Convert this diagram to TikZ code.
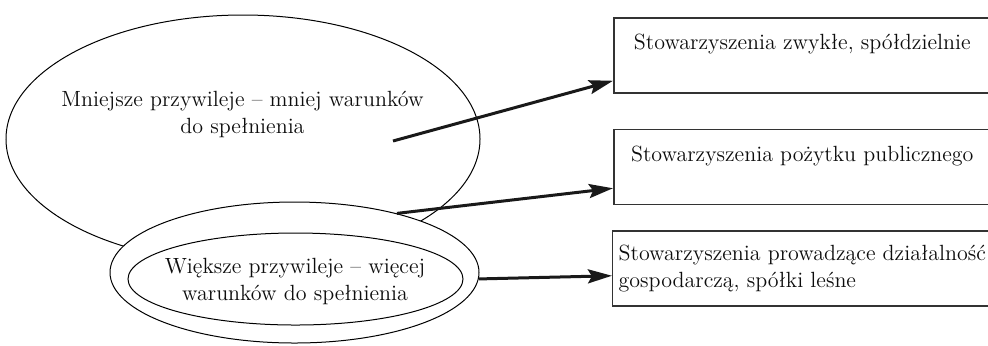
\documentclass[tikz,border=0pt]{standalone}
\usepackage{fontspec}
\usepackage{tikz}
\usetikzlibrary{calc, shapes.geometric, positioning, arrows.meta}

\begin{document}
\begin{tikzpicture}[x=0.5pt, y=-0.5pt, >={Stealth[length=12pt,width=7pt,inset=2pt]},
    owal/.style={draw, ellipse, inner sep=0pt, line width=0.5pt},
    ramka/.style={draw=black!80, line width=0.75pt, rectangle, minimum width=188.5pt, minimum height=37.5pt, inner sep=3pt},
    napis/.style={font=\fontsize{11}{13.5}\selectfont, text=black!95, align=center},
    strzalka/.style={->, line width=1.5pt, black!90}]
    \useasboundingbox (0,0) rectangle (988,345);
    \clip (0,0) rectangle (988,345);

    % 1. Elipsy
    \node[owal, minimum width=237pt, minimum height=124pt] (mniejsze) at (243,139) {};
    \node[owal, fill=white, minimum width=184.5pt, minimum height=70.5pt] (zewn) at (294.5,272.5) {};
    \node[owal, minimum width=167.5pt, minimum height=46pt] (wieksze) at (295.5,279) {};
    \node[napis] (tmniejsze) at (242.5,114) {Mniejsze przywileje -- mniej warunków\\do spełnienia};
    \node[napis] (twieksze) at (295,281.5) {Większe przywileje -- więcej\\warunków do spełnienia};

    % 2. Ramki
    \node[ramka, napis, anchor=west] (zwykle) at (613,55.5) {Stowarzyszenia zwykłe, spółdzielnie\\\mbox{}};
    \node[ramka, napis, below=17.5pt of zwykle] (pozytek) {Stowarzyszenia pożytku publicznego\\\mbox{}};
    \node[ramka, napis, align=left, below=12.5pt of pozytek] (gosp) {Stowarzyszenia prowadzące działalność\\gospodarczą, spółki leśne};

    % 3. Strzałki
    \coordinate (s1) at (393,141);
    \coordinate (k1) at ($(zwykle.south west)+(0,-13)$);
    \coordinate (k2) at ($(pozytek.south west)+(0,-17)$);
    \coordinate (k3) at ($(gosp.south west)+(0,-31)$);
    \draw[strzalka] (s1) -- (k1);
    \draw[strzalka] (zewn.30) -- (k2);
    \draw[strzalka] (zewn.-2) -- (k3);
\end{tikzpicture}
\end{document}
